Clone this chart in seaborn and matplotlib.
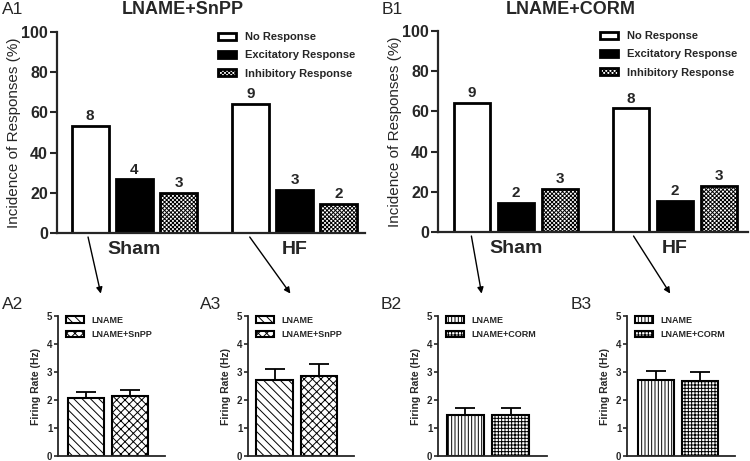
import numpy as np
import pandas as pd
import matplotlib
matplotlib.use("Agg")
import matplotlib.pyplot as plt
from matplotlib.patches import ConnectionPatch
import seaborn as sns

# --- data ---
groups = ["Sham", "HF"]
responses = ["No Response", "Excitatory Response", "Inhibitory Response"]

snpp_sham_pct = [53.3, 26.7, 20.0]
snpp_hf_pct = [64.3, 21.4, 14.3]
snpp_sham_n = [8, 4, 3]
snpp_hf_n = [9, 3, 2]

corm_sham_pct = [64.3, 14.3, 21.4]
corm_hf_pct = [61.5, 15.4, 23.1]
corm_sham_n = [9, 2, 3]
corm_hf_n = [8, 2, 3]

treat_snpp = ["LNAME", "LNAME+SnPP"]
treat_corm = ["LNAME", "LNAME+CORM"]
a2_mean = [2.07, 2.14]
a2_sem = [0.22, 0.22]
a3_mean = [2.72, 2.87]
a3_sem = [0.38, 0.40]
b2_mean = [1.48, 1.46]
b2_sem = [0.23, 0.24]
b3_mean = [2.70, 2.68]
b3_sem = [0.33, 0.32]

sns.set_style("ticks")
plt.rcParams["font.family"] = ["Liberation Sans", "DejaVu Sans"]
plt.rcParams["hatch.linewidth"] = 0.7

fig = plt.figure(figsize=(7.5, 4.61), dpi=100)

W, H = 750.0, 461.0


def px_axes(x0, x1, ytop, ybot):
    return fig.add_axes([x0 / W, 1 - ybot / H, (x1 - x0) / W, (ybot - ytop) / H])


def top_panel(ax, sham_pct, hf_pct, sham_n, hf_n, xlim):
    df = pd.DataFrame({
        "group": np.repeat(groups, 3),
        "response": responses * 2,
        "pct": sham_pct + hf_pct,
    })
    sns.barplot(data=df, x="group", y="pct", hue="response", hue_order=responses,
                palette=["white", "black", "white"], edgecolor="black",
                linewidth=2, width=0.83, gap=0.17, ax=ax, legend=False)
    for bar in ax.containers[2]:
        bar.set_hatch("xxxxxxxx")
    for i, cont in enumerate(ax.containers):
        ax.bar_label(cont, labels=[sham_n[i], hf_n[i]], padding=2,
                     fontsize=11, fontweight="bold")
    ax.set_ylim(0, 100)
    ax.set_xlim(*xlim)
    ax.set_yticks(range(0, 101, 20))
    ax.set_xlabel("")
    ax.set_ylabel("Incidence of Responses (%)", fontsize=11, labelpad=0)
    ax.tick_params(axis="y", length=5, width=1.5, labelsize=11.5, pad=1.5)
    ax.tick_params(axis="x", length=0, labelsize=14, pad=6)
    for lab in ax.get_xticklabels() + ax.get_yticklabels():
        lab.set_fontweight("bold")
    sns.despine(ax=ax)
    for s in ("left", "bottom"):
        ax.spines[s].set_linewidth(1.6)
    handles = [cont[0] for cont in ax.containers]
    ax.legend(handles, responses,
              loc="upper left", bbox_to_anchor=(0.49, 1.05), frameon=False,
              handlelength=1.6, handleheight=0.6, labelspacing=0.75,
              prop={"size": 8, "weight": "bold"})


def bottom_panel(ax, treats, means, sems, hatches, xlim):
    sns.barplot(x=treats, y=means, color="white", edgecolor="black",
                linewidth=1.5, width=0.82, ax=ax)
    for bar, h in zip(ax.patches, hatches):
        bar.set_hatch(h)
    ax.errorbar(range(len(means)), means, yerr=[np.zeros(len(sems)), sems],
                fmt="none", ecolor="black", elinewidth=1.3, capsize=7,
                capthick=1.3, zorder=1)
    ax.set_ylim(0, 5)
    ax.set_xlim(*xlim)
    ax.set_yticks(range(6))
    ax.set_xticklabels([])
    ax.set_ylabel("Firing Rate (Hz)", fontsize=7.5, fontweight="bold", labelpad=4)
    ax.tick_params(axis="y", length=3, width=1.2, labelsize=7, pad=1)
    ax.tick_params(axis="x", length=0)
    for lab in ax.get_yticklabels():
        lab.set_fontweight("bold")
    sns.despine(ax=ax)
    for s in ("left", "bottom"):
        ax.spines[s].set_linewidth(1.3)
    ax.legend(list(ax.patches[:2]), treats, loc="upper left", bbox_to_anchor=(0.0, 1.06),
              frameon=False, handlelength=2.0, handleheight=0.8, labelspacing=0.6,
              prop={"size": 6.5, "weight": "bold"})


ax_a1 = px_axes(57, 365, 32, 233)
ax_b1 = px_axes(438, 748, 31, 232)
ax_a2 = px_axes(58, 165, 316, 456)
ax_a3 = px_axes(248, 354, 316, 456)
ax_b2 = px_axes(438, 547, 316, 456)
ax_b3 = px_axes(627, 735, 316, 456)

diag = "\\\\\\\\"
top_panel(ax_a1, snpp_sham_pct, snpp_hf_pct, snpp_sham_n, snpp_hf_n, (-0.484, 1.44))
top_panel(ax_b1, corm_sham_pct, corm_hf_pct, corm_sham_n, corm_hf_n, (-0.49, 1.46))
bottom_panel(ax_a2, treat_snpp, a2_mean, a2_sem, [diag, "xxxx"], (-0.64, 1.8))
bottom_panel(ax_a3, treat_snpp, a3_mean, a3_sem, [diag, "xxxx"], (-0.6, 1.8))
bottom_panel(ax_b2, treat_corm, b2_mean, b2_sem, ["|||||", "+++++"], (-0.6, 1.8))
bottom_panel(ax_b3, treat_corm, b3_mean, b3_sem, ["|||||", "+++++"], (-0.65, 1.8))

# arrows from each group to its detail panel
for top, gx, bot in [(ax_a1, -0.29, ax_a2), (ax_a1, 0.72, ax_a3),
                     (ax_b1, -0.28, ax_b2), (ax_b1, 0.74, ax_b3)]:
    con = ConnectionPatch(xyA=(gx, -2), coordsA=top.transData,
                          xyB=(0.4, 1.16), coordsB=bot.transAxes,
                          arrowstyle="-|>", mutation_scale=9, lw=1, color="black")
    fig.add_artist(con)

fig.text(2 / W, 1 - 9 / H, "A1", fontsize=12.5, va="center")
fig.text(382 / W, 1 - 9 / H, "B1", fontsize=12.5, va="center")
fig.text(183 / W, 1 - 9 / H, "LNAME+SnPP", fontsize=13, fontweight="bold",
         ha="center", va="center")
fig.text(571 / W, 1 - 9 / H, "LNAME+CORM", fontsize=13, fontweight="bold",
         ha="center", va="center")
for lab, x in [("A2", 2), ("A3", 200), ("B2", 381), ("B3", 571)]:
    fig.text(x / W, 1 - 304 / H, lab, fontsize=12.5, va="center")

fig.savefig("out.png", dpi=100)
